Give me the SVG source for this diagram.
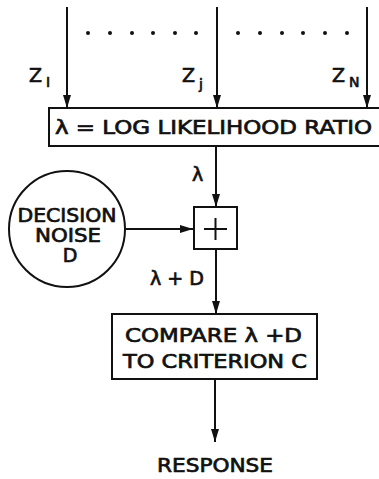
<svg xmlns="http://www.w3.org/2000/svg" width="379" height="479" viewBox="0 0 379 479">
<defs>
<marker id="ah" viewBox="0 0 10 10" refX="10" refY="5" markerWidth="13" markerHeight="8" markerUnits="userSpaceOnUse" orient="auto" preserveAspectRatio="none">
<path d="M0,0 L10,5 L0,10 Z" fill="#111"/>
</marker>
<style>
.ln{stroke:#111;stroke-width:2;fill:none}
.arr{stroke:#111;stroke-width:2;fill:none;marker-end:url(#ah)}
.bx{stroke:#111;stroke-width:2;fill:#fff}
.t{font-family:"DejaVu Sans","Liberation Sans",sans-serif;font-size:19px;fill:#111;stroke:#111;stroke-width:0.7}
.s{font-family:"DejaVu Sans","Liberation Sans",sans-serif;font-size:14px;fill:#111;stroke:#111;stroke-width:0.7}
.dot{fill:#111}
</style>
</defs>
<rect width="379" height="479" fill="#fff"/>
<g id="connectors">
<line class="arr" x1="67" y1="7" x2="67" y2="108"/>
<line class="arr" x1="217" y1="7" x2="217" y2="108"/>
<line class="arr" x1="367" y1="7" x2="367" y2="108"/>
<line class="arr" x1="216" y1="146" x2="216" y2="207"/>
<line class="arr" x1="126" y1="229" x2="193" y2="229"/>
<line class="arr" x1="216" y1="249" x2="216" y2="314"/>
<line class="arr" x1="215" y1="379" x2="215" y2="442"/>
</g>
<g id="dots">
<circle class="dot" cx="88" cy="33" r="2"/>
<circle class="dot" cx="110" cy="33" r="2"/>
<circle class="dot" cx="132" cy="33" r="2"/>
<circle class="dot" cx="153" cy="33" r="2"/>
<circle class="dot" cx="175" cy="33" r="2"/>
<circle class="dot" cx="196" cy="33" r="2"/>
<circle class="dot" cx="238" cy="33" r="2"/>
<circle class="dot" cx="260" cy="33" r="2"/>
<circle class="dot" cx="282" cy="33" r="2"/>
<circle class="dot" cx="303" cy="33" r="2"/>
<circle class="dot" cx="325" cy="33" r="2"/>
<circle class="dot" cx="347" cy="33" r="2"/>
</g>
<g id="inputs">
<text class="t" x="29" y="82">Z</text><text class="s" x="46" y="87">I</text>
<text class="t" x="182" y="82">Z</text><text class="s" x="199" y="89">j</text>
<text class="t" x="332" y="82">Z</text><text class="s" x="349" y="87">N</text>
</g>
<g id="llr">
<rect class="bx" x="49" y="108" width="340" height="38"/>
<text class="t" x="55" y="134" textLength="317" lengthAdjust="spacingAndGlyphs">λ = LOG LIKELIHOOD RATIO</text>
</g>
<text class="t" x="192" y="181">λ</text>
<g id="noise">
<circle class="bx" cx="67" cy="229" r="58"/>
<text class="t" x="67" y="222" text-anchor="middle" textLength="99" lengthAdjust="spacingAndGlyphs">DECISION</text>
<text class="t" x="68" y="242" text-anchor="middle" textLength="66" lengthAdjust="spacingAndGlyphs">NOISE</text>
<text class="t" x="70" y="262" text-anchor="middle">D</text>
</g>
<g id="sum">
<rect class="bx" x="194" y="207" width="43" height="42"/>
<line class="ln" x1="204" y1="229" x2="227" y2="229"/>
<line class="ln" x1="215.5" y1="218" x2="215.5" y2="240"/>
</g>
<text class="t" x="150" y="285" textLength="54" lengthAdjust="spacingAndGlyphs">λ + D</text>
<g id="compare">
<rect class="bx" x="112" y="314" width="205" height="65"/>
<text class="t" x="125" y="342" textLength="177" lengthAdjust="spacingAndGlyphs">COMPARE λ +D</text>
<text class="t" x="123" y="368" textLength="184" lengthAdjust="spacingAndGlyphs">TO CRITERION C</text>
</g>
<g id="response">
<text class="t" x="157" y="472" textLength="116" lengthAdjust="spacingAndGlyphs">RESPONSE</text>
</g>
</svg>
